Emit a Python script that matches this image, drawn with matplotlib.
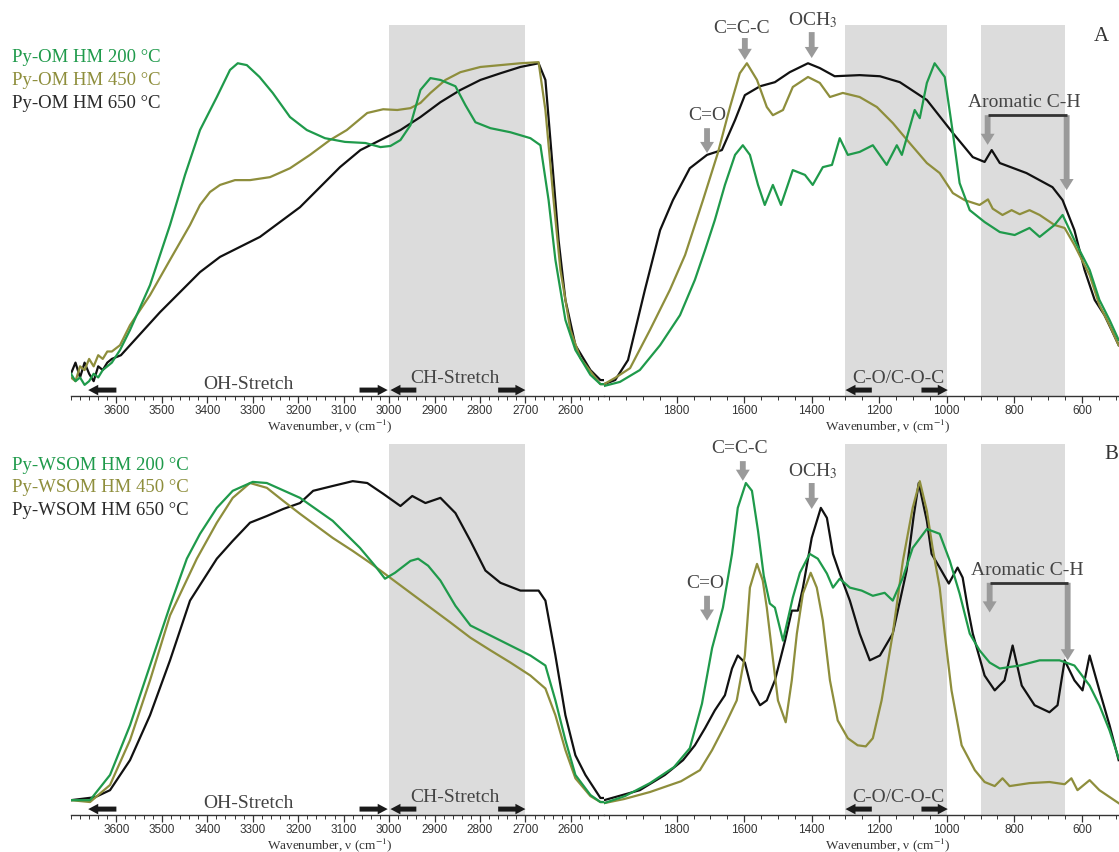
import numpy as np
import matplotlib.pyplot as plt
from matplotlib.ticker import FixedLocator, MultipleLocator

plt.rcParams['font.family'] = ['Liberation Serif', 'DejaVu Serif']
plt.rcParams['mathtext.fontset'] = 'stix'

GREEN = '#1f9a4b'
OLIVE = '#8e8e3c'
BLACK = '#111111'
TXT = '#444444'
SHADE = '#dcdcdc'
ARROW_GRAY = '#9a9a9a'

# ---- panel A: Py-OM, (wavenumber cm-1, absorbance a.u.) ----
a200 = [(3700, 6), (3690, 4), (3680, 5), (3670, 3), (3660, 4), (3650, 6), (3640, 5), (3630, 7),
        (3620, 8), (3610, 9), (3592, 12.4), (3570, 17.8), (3526, 29.9), (3482, 46.1), (3449, 59.6),
        (3416, 71.7), (3379, 80.6), (3350, 87.9), (3333, 89.7), (3313, 89.2), (3285, 86.0),
        (3256, 81.7), (3218, 75.2), (3181, 71.7), (3141, 69.5), (3097, 68.5), (3052, 68.2),
        (3019, 67.1), (2997, 67.4), (2975, 69.0), (2953, 73.0), (2931, 82.5), (2909, 85.7),
        (2887, 85.2), (2854, 83.5), (2832, 78.4), (2810, 73.8), (2777, 72.2), (2733, 71.1),
        (2689, 69.5), (2667, 67.6), (2649, 52.8), (2634, 36.7), (2612, 20.5), (2590, 12.4),
        (2557, 5.7), (2535, 3.2),
        (2015, 2.7), (1968, 3.8), (1909, 7.0), (1849, 13.7), (1790, 21.8), (1746, 31.3),
        (1716, 39.3), (1687, 47.4), (1657, 56.9), (1627, 65.0), (1604, 67.6), (1583, 65.0),
        (1559, 56.9), (1539, 51.5), (1515, 56.9), (1491, 51.5), (1456, 60.9), (1420, 59.6),
        (1397, 56.9), (1367, 61.7), (1340, 62.3), (1317, 69.5), (1293, 65.0), (1258, 65.8),
        (1219, 67.6), (1178, 62.3), (1148, 67.6), (1133, 65.0), (1095, 77.1), (1080, 74.9),
        (1059, 84.4), (1036, 89.7), (1006, 86.0), (982, 70.9), (962, 57.4), (932, 50.1),
        (888, 46.9), (843, 44.2), (799, 43.4), (755, 45.3), (725, 42.9), (681, 46.1),
        (657, 48.8), (622, 42.0), (577, 34.0), (548, 25.9), (518, 20.5), (491, 15.1)]

a450 = [(3700, 5), (3690, 4), (3680, 8), (3670, 7), (3660, 10), (3650, 8), (3640, 11), (3630, 10),
        (3620, 12), (3610, 12), (3592, 13.7), (3570, 19.1), (3526, 27.2), (3482, 36.7),
        (3438, 46.1), (3416, 51.5), (3394, 55.0), (3372, 56.9), (3339, 58.2), (3306, 58.2),
        (3262, 59.0), (3218, 61.4), (3174, 65.0), (3130, 69.0), (3093, 71.7), (3048, 76.3),
        (3013, 77.3), (2982, 77.1), (2953, 77.6), (2931, 79.0), (2909, 81.7), (2876, 85.2),
        (2843, 87.3), (2799, 88.7), (2755, 89.2), (2711, 89.7), (2671, 90.0), (2656, 77.1),
        (2638, 52.8), (2623, 34.0), (2601, 17.8), (2579, 10.2), (2546, 4.9), (2535, 3.2),
        (2015, 3.2), (1982, 4.9), (1938, 7.5), (1879, 17.8), (1820, 28.6), (1775, 38.0),
        (1746, 46.1), (1722, 52.8), (1678, 65.5), (1642, 77.9), (1613, 87.0), (1592, 89.7),
        (1562, 85.2), (1533, 77.9), (1515, 75.7), (1485, 77.1), (1456, 83.3), (1411, 86.0),
        (1376, 84.4), (1346, 80.6), (1308, 81.7), (1258, 80.6), (1207, 77.9), (1160, 73.6),
        (1110, 68.2), (1059, 62.8), (1021, 60.1), (982, 54.7), (947, 52.8), (903, 51.5),
        (878, 53.0), (864, 50.5), (835, 48.8), (808, 50.1), (784, 49.0), (755, 50.1),
        (725, 48.8), (681, 46.1), (651, 45.3), (622, 40.7), (577, 32.6), (548, 24.5),
        (518, 19.1), (491, 13.7)]

a650 = [(3700, 6), (3690, 9), (3680, 5), (3670, 9), (3660, 6), (3650, 4), (3640, 8), (3630, 7),
        (3620, 9), (3610, 10), (3590, 11), (3570, 13.7), (3504, 22.6), (3460, 28.0), (3416, 33.4),
        (3372, 37.5), (3328, 40.2), (3284, 42.9), (3240, 46.9), (3196, 50.9), (3152, 56.3),
        (3108, 61.7), (3063, 66.3), (3019, 69.0), (2975, 71.7), (2931, 75.2), (2887, 79.2),
        (2843, 82.5), (2799, 85.2), (2755, 87.0), (2711, 88.7), (2671, 89.7), (2656, 85.2),
        (2645, 69.0), (2627, 42.0), (2612, 25.9), (2590, 13.7), (2557, 7.0), (2535, 4.3),
        (2015, 3.2), (1982, 4.3), (1944, 9.7), (1894, 28.6), (1849, 44.7), (1811, 52.8),
        (1761, 61.4), (1710, 65.0), (1666, 66.3), (1627, 74.4), (1598, 81.1), (1553, 83.5),
        (1509, 84.6), (1465, 87.3), (1411, 89.7), (1376, 88.4), (1332, 86.2), (1258, 86.5),
        (1198, 86.2), (1139, 84.6), (1059, 79.8), (982, 70.9), (923, 64.4), (888, 63.1),
        (867, 66.3), (843, 62.8), (764, 60.1), (687, 56.3), (657, 52.8), (622, 44.7),
        (592, 34.0), (562, 25.9), (533, 21.8), (512, 17.8), (491, 13.7)]

# ---- panel B: Py-WSOM ----
b200 = [(3700, 4.0), (3658, 4.0), (3614, 10.8), (3570, 24.2), (3526, 40.3), (3482, 56.4),
        (3445, 69.1), (3416, 75.8), (3379, 82.8), (3344, 87.4), (3300, 89.8), (3269, 89.5),
        (3196, 85.5), (3124, 79.3), (3064, 72.0), (3031, 67.2), (3009, 63.7), (2987, 65.3),
        (2953, 68.5), (2936, 69.1), (2914, 67.2), (2887, 63.2), (2854, 56.4), (2821, 51.1),
        (2777, 48.4), (2733, 45.7), (2689, 43.0), (2656, 40.3), (2634, 30.9), (2612, 20.2),
        (2590, 10.8), (2557, 5.4), (2535, 3.5),
        (2015, 3.2), (1953, 5.1), (1879, 8.6), (1808, 12.9), (1761, 18.0), (1725, 30.0),
        (1695, 45.0), (1663, 55.9), (1636, 70.4), (1619, 82.8), (1595, 89.5), (1577, 87.4),
        (1559, 76.6), (1542, 64.5), (1524, 57.0), (1509, 55.9), (1485, 47.0), (1456, 58.6),
        (1435, 65.3), (1406, 70.4), (1382, 69.1), (1355, 65.1), (1337, 61.3), (1317, 63.7),
        (1287, 61.3), (1252, 60.5), (1219, 59.1), (1184, 59.9), (1160, 57.8), (1130, 64.0),
        (1101, 72.0), (1059, 77.1), (1021, 75.8), (991, 68.5), (962, 59.7), (932, 48.9),
        (903, 44.4), (873, 41.1), (843, 39.5), (784, 40.3), (725, 41.7), (666, 41.7),
        (622, 40.3), (577, 34.9), (548, 29.6), (518, 22.8), (491, 15.3)]

b450 = [(3700, 4.0), (3658, 3.5), (3614, 8.1), (3570, 20.2), (3526, 36.3), (3482, 53.8),
        (3423, 69.1), (3379, 78.8), (3344, 85.5), (3306, 89.5), (3269, 88.2), (3233, 84.7),
        (3196, 81.2), (3124, 74.7), (3080, 71.2), (3042, 68.0), (2998, 64.0), (2953, 59.9),
        (2909, 55.9), (2865, 51.9), (2821, 47.8), (2777, 44.4), (2733, 41.1), (2689, 37.6),
        (2656, 34.1), (2634, 26.9), (2612, 17.5), (2590, 9.9), (2557, 5.1), (2535, 3.5),
        (2015, 3.2), (1956, 4.3), (1879, 6.2), (1787, 9.1), (1731, 12.1), (1695, 17.5),
        (1657, 24.2), (1622, 30.9), (1598, 43.0), (1583, 61.3), (1562, 67.7), (1545, 63.2),
        (1533, 55.9), (1518, 44.4), (1500, 30.9), (1477, 25.0), (1459, 36.3), (1444, 48.9),
        (1426, 59.7), (1403, 65.3), (1385, 61.3), (1367, 52.4), (1346, 36.3), (1323, 25.5),
        (1293, 20.7), (1264, 18.8), (1240, 18.5), (1219, 20.7), (1193, 30.9), (1160, 48.9),
        (1130, 68.5), (1101, 82.8), (1080, 90.0), (1059, 82.0), (1042, 72.0), (1021, 61.3),
        (1006, 48.9), (986, 33.6), (956, 18.8), (917, 12.1), (888, 8.9), (858, 7.8),
        (835, 9.9), (814, 7.8), (755, 8.6), (696, 8.9), (651, 8.3), (631, 9.9), (613, 6.7),
        (577, 9.4), (548, 6.7), (491, 3.2)]

b650 = [(3700, 4.0), (3647, 4.8), (3614, 6.7), (3570, 14.8), (3526, 26.9), (3482, 41.7),
        (3438, 57.8), (3379, 69.1), (3344, 73.9), (3306, 78.8), (3269, 80.6), (3233, 82.5),
        (3196, 84.1), (3167, 87.4), (3124, 88.7), (3080, 90.0), (3048, 89.5), (3013, 86.6),
        (2975, 83.3), (2949, 86.0), (2920, 84.1), (2887, 85.5), (2854, 81.4), (2821, 73.9),
        (2788, 65.9), (2755, 62.6), (2711, 60.5), (2671, 60.5), (2656, 57.8), (2634, 43.0),
        (2612, 26.9), (2590, 16.1), (2568, 10.8), (2535, 4.6),
        (2015, 4.0), (1909, 6.7), (1835, 10.8), (1781, 14.8), (1746, 18.8), (1716, 23.4),
        (1687, 28.2), (1657, 32.3), (1636, 39.5), (1619, 43.0), (1598, 41.1), (1577, 33.6),
        (1553, 29.6), (1533, 30.9), (1509, 36.3), (1479, 47.0), (1459, 55.1), (1441, 55.1),
        (1426, 61.3), (1400, 74.7), (1373, 82.8), (1355, 80.1), (1337, 70.4), (1317, 65.1),
        (1287, 57.8), (1258, 48.9), (1228, 41.7), (1198, 43.0), (1160, 48.9), (1119, 65.9),
        (1098, 80.6), (1083, 89.5), (1059, 79.3), (1045, 70.4), (1021, 66.7), (994, 62.4),
        (968, 66.7), (953, 64.0), (938, 55.9), (923, 48.9), (888, 37.6), (858, 33.6),
        (829, 36.3), (805, 45.7), (778, 34.9), (740, 29.6), (696, 27.7), (672, 29.6),
        (651, 41.7), (622, 36.3), (598, 33.6), (577, 43.0), (548, 33.6), (518, 24.2),
        (491, 14.8)]

legend_a = ['Py-OM HM 200 \u00b0C', 'Py-OM HM 450 \u00b0C', 'Py-OM HM 650 \u00b0C']
legend_b = ['Py-WSOM HM 200 \u00b0C', 'Py-WSOM HM 450 \u00b0C', 'Py-WSOM HM 650 \u00b0C']

hi_lim = (3700, 2527)
lo_lim = (2015, 490)
hi_ticks = list(range(3600, 2550, -100))
lo_ticks = [1800, 1600, 1400, 1200, 1000, 800, 600]
hi_bands = [(3000, 2700)]
lo_bands = [(1300, 1000), (900, 650)]

fig = plt.figure(figsize=(11.19, 8.52), dpi=100)

SIMPLE = 'simple,head_length=0.8,head_width=1.0,tail_width=0.42'
BLK = 'simple,head_length=0.9,head_width=0.95,tail_width=0.45'


def gray_arrow(ax, x, y0, y1):
    ax.annotate('', xy=(x, y1), xytext=(x, y0), annotation_clip=False,
                arrowprops=dict(arrowstyle=SIMPLE, color=ARROW_GRAY, mutation_scale=10,
                                shrinkA=0, shrinkB=0, lw=0))


def black_arrow(ax, x0, x1, yf=0.016):
    tr = ax.get_xaxis_transform()
    ax.annotate('', xy=(x1, yf), xytext=(x0, yf), xycoords=tr, textcoords=tr,
                annotation_clip=False,
                arrowprops=dict(arrowstyle=BLK, color='#1a1a1a', mutation_scale=8,
                                shrinkA=0, shrinkB=0, lw=0))


def make_panel(bottom, series, names, legend_top):
    ax_hi = fig.add_axes([0.0634, bottom, 0.4764, 0.4354])
    ax_lo = fig.add_axes([0.5398, bottom, 0.4602, 0.4354])
    for ax, lim, bands in [(ax_hi, hi_lim, hi_bands), (ax_lo, lo_lim, lo_bands)]:
        ax.set_facecolor('none')
        ax.set_xlim(*lim)
        ax.set_ylim(0, 100)
        for a, b in bands:
            ax.axvspan(b, a, color=SHADE, lw=0, zorder=0)
        for s in ['top', 'left', 'right']:
            ax.spines[s].set_visible(False)
        ax.spines['bottom'].set_color('#333333')
        ax.spines['bottom'].set_linewidth(1.0)
        ax.set_yticks([])
        for data, col in zip(series, [BLACK, OLIVE, GREEN]):
            arr = np.array(data, dtype=float).T
            ax.plot(arr[0], arr[1], color=col, lw=1.6, zorder=3)
        ax.tick_params(axis='x', which='both', direction='out', colors='#333333',
                       labelsize=8.5, pad=1.5, labelfontfamily='Liberation Sans')
        ax.tick_params(axis='x', which='major', length=5, width=0.9)
        ax.tick_params(axis='x', which='minor', length=3, width=0.7)
        ax.set_xlabel('Wavenumber, \u03bd (cm$^{-1}$)', fontsize=9.5, color='#333333')
    ax_hi.xaxis.set_major_locator(FixedLocator(hi_ticks))
    ax_hi.xaxis.set_minor_locator(MultipleLocator(20))
    ax_lo.xaxis.set_major_locator(FixedLocator(lo_ticks))
    ax_lo.xaxis.set_minor_locator(MultipleLocator(50))
    ax_hi.xaxis.set_label_coords(0.486, -0.057)
    ax_lo.xaxis.set_label_coords(0.551, -0.057)

    # stretch regions along the bottom
    tr_hi = ax_hi.get_xaxis_transform()
    tr_lo = ax_lo.get_xaxis_transform()
    ax_hi.text(3310, 0.030, 'OH-Stretch', transform=tr_hi, ha='center', va='center',
               fontsize=14, color=TXT)
    ax_hi.text(2855, 0.048, 'CH-Stretch', transform=tr_hi, ha='center', va='center',
               fontsize=14, color=TXT)
    ax_lo.text(1143, 0.048, 'C-O/C-O-C', transform=tr_lo, ha='center', va='center',
               fontsize=14, color=TXT)
    black_arrow(ax_hi, 3600, 3662)
    black_arrow(ax_hi, 3065, 3003)
    black_arrow(ax_hi, 2940, 2997)
    black_arrow(ax_hi, 2760, 2700)
    black_arrow(ax_lo, 1222, 1300)
    black_arrow(ax_lo, 1075, 997)

    for i, (name, col) in enumerate(zip(names, [GREEN, OLIVE, '#2a2a2a'])):
        fig.text(0.0107, legend_top - i * 0.0266, name, color=col,
                 fontsize=13.5, va='center', ha='left')
    return ax_hi, ax_lo


# ---- panel A ----
axA_hi, axA_lo = make_panel(0.5352, [a650, a450, a200], legend_a, 0.932)
axA_lo.text(1710, 75.7, 'C=O', ha='center', va='center', fontsize=14, color=TXT)
gray_arrow(axA_lo, 1710, 72.2, 65.5)
axA_lo.text(1607, 99.2, 'C=C-C', ha='center', va='center', fontsize=14, color=TXT)
gray_arrow(axA_lo, 1598, 96.5, 90.6)
axA_lo.text(1397, 101.3, 'OCH$_3$', ha='center', va='center', fontsize=14, color=TXT)
gray_arrow(axA_lo, 1400, 98.1, 91.1)
axA_lo.text(769, 79.0, 'Aromatic C-H', ha='center', va='center', fontsize=14, color=TXT)
axA_lo.plot([879, 645], [75.7, 75.7], color='#333333', lw=2, solid_capstyle='butt', zorder=4)
gray_arrow(axA_lo, 879, 75.7, 67.7)
gray_arrow(axA_lo, 645, 75.7, 55.5)
axA_lo.text(542, 96.8, 'A', ha='center', va='center', fontsize=15, color='#333333')

# ---- panel B ----
axB_hi, axB_lo = make_panel(0.0434, [b650, b450, b200], legend_b, 0.4542)
axB_lo.text(1716, 62.4, 'C=O', ha='center', va='center', fontsize=14, color=TXT)
gray_arrow(axB_lo, 1710, 59.1, 52.4)
axB_lo.text(1613, 98.9, 'C=C-C', ha='center', va='center', fontsize=14, color=TXT)
gray_arrow(axB_lo, 1604, 95.4, 90.1)
axB_lo.text(1397, 92.7, 'OCH$_3$', ha='center', va='center', fontsize=14, color=TXT)
gray_arrow(axB_lo, 1400, 89.5, 82.5)
axB_lo.text(761, 65.9, 'Aromatic C-H', ha='center', va='center', fontsize=14, color=TXT)
axB_lo.plot([873, 642], [62.6, 62.6], color='#333333', lw=2, solid_capstyle='butt', zorder=4)
gray_arrow(axB_lo, 873, 62.6, 54.6)
gray_arrow(axB_lo, 642, 62.6, 41.7)
axB_lo.text(512, 97.3, 'B', ha='center', va='center', fontsize=15, color='#333333')

fig.savefig('out.png', dpi=100)
